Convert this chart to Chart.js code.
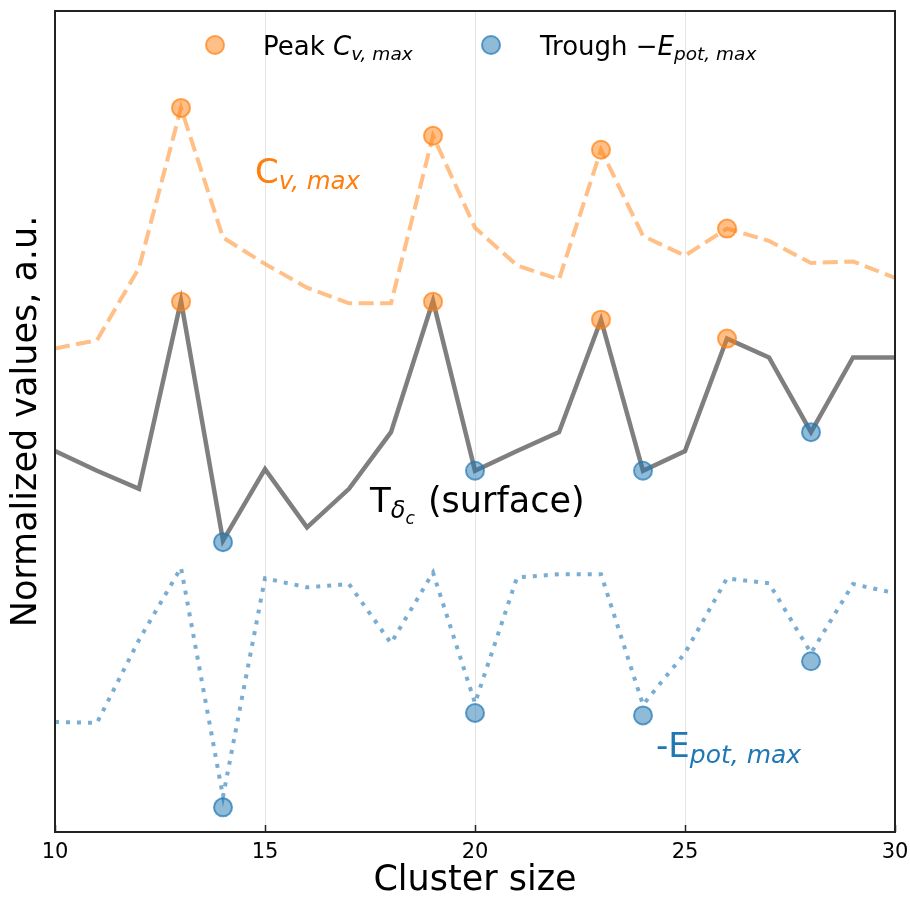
<!DOCTYPE html>
<html>
<head>
<meta charset="utf-8">
<script src="https://cdn.jsdelivr.net/npm/chart.js@4.4.0/dist/chart.umd.min.js"></script>
<style>
  html, body { margin: 0; padding: 0; background: #fff; }
  #wrap { width: 910px; height: 902px; }
</style>
</head>
<body>
<div id="wrap"><canvas id="myChart"></canvas></div>
<script>
// cluster sizes on the x axis
const clusterSizes = [10, 11, 12, 13, 14, 15, 16, 17, 18, 19, 20, 21, 22, 23, 24, 25, 26, 27, 28, 29, 30];
// normalized curves (a.u.)
const cvMax = [0.589, 0.599, 0.687, 0.882, 0.724, 0.692, 0.663, 0.644, 0.644, 0.848, 0.736, 0.690, 0.673, 0.831, 0.726, 0.702, 0.735, 0.720, 0.693, 0.695, 0.675];
const tSurface = [0.464, 0.440, 0.418, 0.647, 0.355, 0.442, 0.371, 0.418, 0.487, 0.647, 0.440, 0.464, 0.487, 0.624, 0.440, 0.464, 0.601, 0.578, 0.487, 0.578, 0.578];
const negEpot = [0.134, 0.133, 0.234, 0.322, 0.043, 0.309, 0.298, 0.302, 0.230, 0.316, 0.157, 0.310, 0.314, 0.314, 0.155, 0.218, 0.309, 0.303, 0.218, 0.302, 0.291];
// peak / trough markers
const peakSizes = [13, 19, 23, 26];
const peakCv = [0.882, 0.848, 0.831, 0.735];
const peakT = [0.646, 0.646, 0.624, 0.601];
const troughSizes = [14, 20, 24, 28];
const troughT = [0.353, 0.440, 0.440, 0.487];
const troughE = [0.030, 0.145, 0.142, 0.208];
const xTicks = [10, 15, 20, 25, 30];

const FONT = "'DejaVu Sans', sans-serif";
const ORANGE = '#ff7f0e';
const BLUE = '#1f77b4';

function pts(xs, ys) {
  return xs.map((x, i) => ({ x: x, y: ys[i] }));
}

function richText(ctx, x, y, parts, color) {
  ctx.save();
  ctx.fillStyle = color;
  ctx.textBaseline = 'alphabetic';
  ctx.textAlign = 'left';
  let cx = x;
  parts.forEach(p => {
    ctx.font = p.font;
    ctx.fillText(p.t, cx, y + (p.dy || 0));
    cx += ctx.measureText(p.t).width + (p.gap || 0);
  });
  ctx.restore();
}

function marker(ctx, x, y, ds) {
  ctx.save();
  ctx.beginPath();
  ctx.arc(x, y, ds.pointRadius, 0, Math.PI * 2);
  ctx.fillStyle = ds.pointBackgroundColor;
  ctx.fill();
  ctx.lineWidth = ds.pointBorderWidth;
  ctx.strokeStyle = ds.pointBorderColor;
  ctx.stroke();
  ctx.restore();
}

const extras = {
  id: 'extras',
  afterDraw(chart) {
    const ctx = chart.ctx;
    const a = chart.chartArea;
    const xs = chart.scales.x;
    const ys = chart.scales.y;

    // inward ticks on the bottom axis
    ctx.save();
    ctx.strokeStyle = '#222';
    ctx.lineWidth = 1.5;
    xTicks.forEach(v => {
      const px = Math.round(xs.getPixelForValue(v)) + 0.5;
      ctx.beginPath();
      ctx.moveTo(px, a.bottom);
      ctx.lineTo(px, a.bottom - 7);
      ctx.stroke();
    });
    // frame
    ctx.lineWidth = 2;
    ctx.strokeRect(a.left, a.top, a.right - a.left, a.bottom - a.top);
    ctx.restore();

    // curve annotations
    richText(ctx, xs.getPixelForValue(14.76), ys.getPixelForValue(0.79), [
      { t: 'C', font: `34px ${FONT}` },
      { t: 'v, max', font: `italic 24.5px ${FONT}`, dy: 6 }
    ], ORANGE);
    richText(ctx, xs.getPixelForValue(17.5), ys.getPixelForValue(0.39), [
      { t: 'T', font: `34px ${FONT}` },
      { t: 'δ', font: `italic 24px ${FONT}`, dy: 6 },
      { t: 'c', font: `italic 17px ${FONT}`, dy: 12, gap: 2 },
      { t: ' (surface)', font: `35px ${FONT}` }
    ], '#000');
    richText(ctx, xs.getPixelForValue(24.31), ys.getPixelForValue(0.091), [
      { t: '-E', font: `34px ${FONT}` },
      { t: 'pot, max', font: `italic 25px ${FONT}`, dy: 6 }
    ], BLUE);

    // legend
    const dsPeak = chart.data.datasets[3];
    const dsTrough = chart.data.datasets[4];
    marker(ctx, 215, 45, dsPeak);
    richText(ctx, 263, 55, [
      { t: 'Peak ', font: `26px ${FONT}` },
      { t: 'C', font: `italic 26px ${FONT}` },
      { t: 'v, max', font: `italic 18.5px ${FONT}`, dy: 5 }
    ], '#000');
    marker(ctx, 491, 45, dsTrough);
    richText(ctx, 540, 55, [
      { t: 'Trough ', font: `26px ${FONT}` },
      { t: '\u2212', font: `26px ${FONT}` },
      { t: 'E', font: `italic 26px ${FONT}` },
      { t: 'pot, max', font: `italic 18.5px ${FONT}`, dy: 5 }
    ], '#000');
  }
};

const ctx = document.getElementById('myChart');

new Chart(ctx, {
  type: 'line',
  data: {
    datasets: [
      {
        label: 'Cv,max',
        data: pts(clusterSizes, cvMax),
        borderColor: 'rgba(255, 127, 14, 0.5)',
        borderWidth: 4,
        borderDash: [15, 6.5],
        pointRadius: 0,
        tension: 0,
        order: 3
      },
      {
        label: 'T surface',
        data: pts(clusterSizes, tSurface),
        borderColor: 'rgba(0, 0, 0, 0.5)',
        borderWidth: 4.5,
        pointRadius: 0,
        tension: 0,
        order: 3
      },
      {
        label: '-Epot,max',
        data: pts(clusterSizes, negEpot),
        borderColor: 'rgba(31, 119, 180, 0.6)',
        borderWidth: 4,
        borderDash: [4, 7],
        borderCapStyle: 'butt',
        pointRadius: 0,
        tension: 0,
        order: 3
      },
      {
        label: 'Peak',
        type: 'scatter',
        data: pts(peakSizes, peakCv).concat(pts(peakSizes, peakT)),
        pointRadius: 9,
        pointBackgroundColor: 'rgba(255, 127, 14, 0.5)',
        pointBorderColor: 'rgba(255, 127, 14, 0.7)',
        pointBorderWidth: 2,
        showLine: false,
        order: 1
      },
      {
        label: 'Trough',
        type: 'scatter',
        data: pts(troughSizes, troughT).concat(pts(troughSizes, troughE)),
        pointRadius: 9,
        pointBackgroundColor: 'rgba(31, 119, 180, 0.5)',
        pointBorderColor: 'rgba(31, 119, 180, 0.7)',
        pointBorderWidth: 2,
        showLine: false,
        order: 1
      }
    ]
  },
  options: {
    responsive: true,
    maintainAspectRatio: false,
    animation: false,
    layout: {
      padding: { top: 10, right: 15, left: 0, bottom: 0 }
    },
    plugins: {
      legend: { display: false },
      tooltip: { enabled: false }
    },
    scales: {
      x: {
        type: 'linear',
        min: 10,
        max: 30,
        afterBuildTicks: s => { s.ticks = xTicks.map(v => ({ value: v })); },
        afterFit: s => { s.height = 70; s.paddingLeft = 0; s.paddingRight = 0; },
        grid: {
          color: 'rgba(0, 0, 0, 0.1)',
          lineWidth: 1,
          drawTicks: false
        },
        border: { display: false },
        ticks: {
          color: '#000',
          padding: 8,
          maxRotation: 0,
          font: { family: FONT, size: 21 }
        },
        title: {
          display: true,
          text: 'Cluster size',
          color: '#000',
          padding: { top: 0, bottom: 0 },
          font: { family: FONT, size: 35 }
        }
      },
      y: {
        min: 0,
        max: 1,
        afterFit: s => { s.width = 55; },
        grid: { display: false, drawTicks: false },
        border: { display: false },
        ticks: { display: false },
        title: {
          display: true,
          text: 'Normalized values, a.u.',
          color: '#000',
          padding: { top: 6, bottom: 0 },
          font: { family: FONT, size: 35 }
        }
      }
    }
  },
  plugins: [extras]
});
</script>
</body>
</html>
